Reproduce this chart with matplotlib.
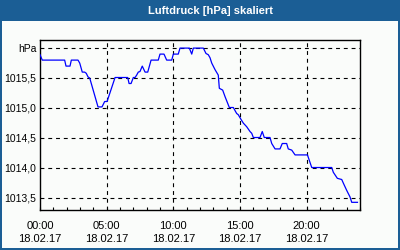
import matplotlib
matplotlib.use("Agg")
import matplotlib.pyplot as plt
from matplotlib.patches import Rectangle
from matplotlib.ticker import FixedLocator, MultipleLocator

# Data: time of day (hours on 18.02.17) and pressure (hPa)
hours = [0.0, 0.17, 1.85, 1.95, 2.25, 2.35, 2.85, 2.98, 3.17, 3.35, 3.47, 3.6, 3.73,
         4.35, 4.65, 4.85, 5.03, 5.63, 6.58, 6.68, 6.83, 7.0, 7.13, 7.25, 7.37, 7.5,
         7.67, 7.88, 8.08, 8.33, 8.87, 9.0, 9.3, 9.5, 9.88, 10.0, 10.37, 10.5, 11.2,
         11.38, 11.5, 12.25, 12.45, 12.62, 12.75, 12.88, 13.13, 13.37, 13.45, 13.7,
         13.88, 14.2, 14.5, 14.75, 14.87, 15.08, 15.25, 15.5, 15.75, 15.88, 16.0,
         16.5, 16.67, 16.82, 17.25, 17.38, 17.63, 18.0, 18.17, 18.5, 18.62, 18.88,
         19.13, 20.06, 20.38, 21.88, 22.0, 22.3, 22.63, 22.75, 23.0, 23.25, 23.38, 23.81]
pressure = [1015.88, 1015.79, 1015.79, 1015.69, 1015.69, 1015.79, 1015.79, 1015.74,
            1015.59, 1015.59, 1015.57, 1015.51, 1015.49, 1015.01, 1015.01, 1015.10,
            1015.10, 1015.50, 1015.50, 1015.40, 1015.40, 1015.50, 1015.50, 1015.54,
            1015.59, 1015.60, 1015.69, 1015.59, 1015.59, 1015.79, 1015.79, 1015.89,
            1015.89, 1015.79, 1015.79, 1015.89, 1015.89, 1015.99, 1015.99, 1015.89,
            1015.99, 1015.99, 1015.90, 1015.88, 1015.83, 1015.74, 1015.63, 1015.54,
            1015.32, 1015.29, 1015.18, 1015.00, 1015.00, 1014.90, 1014.88, 1014.80,
            1014.74, 1014.68, 1014.60, 1014.57, 1014.50, 1014.50, 1014.60, 1014.50,
            1014.50, 1014.40, 1014.31, 1014.31, 1014.40, 1014.40, 1014.31, 1014.29,
            1014.21, 1014.21, 1014.00, 1014.00, 1013.92, 1013.82, 1013.80, 1013.74,
            1013.62, 1013.51, 1013.42, 1013.42]

x_ticks = [0, 5, 10, 15, 20]
x_labels = ["00:00\n18.02.17", "05:00\n18.02.17", "10:00\n18.02.17",
            "15:00\n18.02.17", "20:00\n18.02.17"]
y_ticks = [1013.5, 1014.0, 1014.5, 1015.0, 1015.5, 1016.0]
y_labels = ["1013,5", "1014,0", "1014,5", "1015,0", "1015,5", "hPa"]
title = "Luftdruck [hPa] skaliert"

W, H = 400, 250
BLUE = "#1b5e95"
BG = "#fafcfa"

fig = plt.figure(figsize=(4, 2.5), dpi=100)
fig.patch.set_facecolor(BLUE)
fig.patches.append(Rectangle((2 / W, 2 / H), (W - 4) / W, (H - 23) / H,
                             transform=fig.transFigure, facecolor=BG,
                             edgecolor="none", zorder=-10))
fig.text(211 / W, 1 - 10.5 / H, title, color="white", fontsize=8,
         fontweight="bold", family="Liberation Sans", ha="center", va="center")

ax = fig.add_axes([40 / W, 40 / H, 320 / W, 170 / H])
ax.set_zorder(5)
ax.set_facecolor(BG)
ax.plot(hours, pressure, color="#0000ff", lw=0.9, zorder=3)

ax.set_xlim(0, 24)
ax.set_ylim(1013.292, 1016.125)
ax.xaxis.set_major_locator(FixedLocator(x_ticks))
ax.xaxis.set_minor_locator(MultipleLocator(1))
ax.set_xticklabels(x_labels, fontsize=8, family="Liberation Sans", linespacing=1.4)
ax.set_yticks(y_ticks)
ax.set_yticklabels(y_labels, fontsize=7.5, family="Liberation Sans")
ax.tick_params(axis="x", which="both", direction="in", length=2.5, width=0.8,
               pad=8, colors="black")
ax.tick_params(axis="y", which="both", length=0, pad=2.5)

for t in y_ticks:
    ax.axhline(t, color="black", lw=0.8, ls=(0, (3.5, 3.5)), zorder=2)
for t in x_ticks[1:]:
    ax.axvline(t, color="black", lw=0.8, ls=(0, (3.5, 3.5)), zorder=2)

for s in ax.spines.values():
    s.set_linewidth(1.0)
    s.set_color("black")

fig.savefig("out.png", dpi=100, facecolor=fig.get_facecolor())
